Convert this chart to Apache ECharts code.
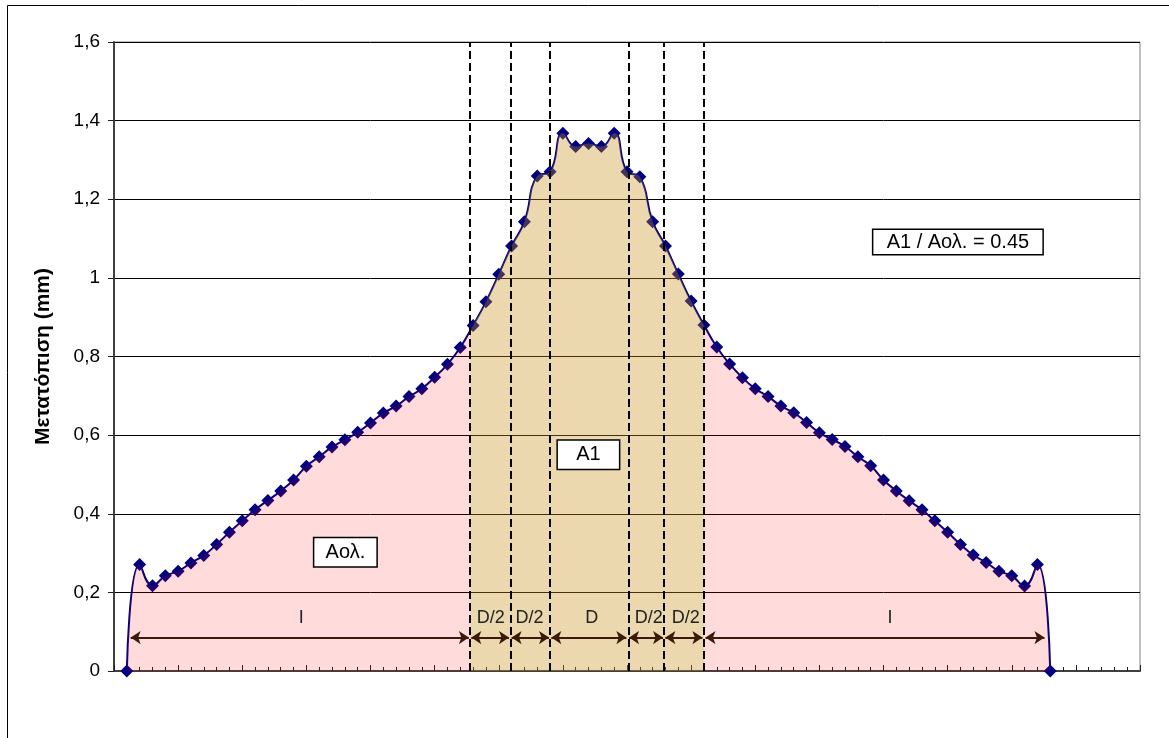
<!DOCTYPE html>
<html>
<head>
<meta charset="utf-8">
<script src="https://cdn.jsdelivr.net/npm/echarts@6/dist/echarts.min.js"></script>
<style>
  html, body { margin: 0; padding: 0; background: #fff; }
  #chart { width: 1169px; height: 738px; }
</style>
</head>
<body>
<div id="chart"></div>
<script>
// Μετατόπιση (mm) στις θέσεις 1..73
const displacement = [
  0, 0.271, 0.217, 0.242, 0.254, 0.275, 0.294, 0.322, 0.353, 0.382,
  0.410, 0.434, 0.458, 0.486, 0.521, 0.545, 0.570, 0.588, 0.607, 0.631,
  0.656, 0.674, 0.698, 0.718, 0.747, 0.780, 0.823, 0.879, 0.939, 1.009,
  1.081, 1.143, 1.259, 1.270, 1.368, 1.334, 1.342, 1.334, 1.368, 1.270,
  1.257, 1.143, 1.081, 1.010, 0.941, 0.880, 0.824, 0.781, 0.746, 0.718,
  0.698, 0.674, 0.657, 0.632, 0.606, 0.589, 0.571, 0.545, 0.522, 0.486,
  0.458, 0.433, 0.410, 0.382, 0.353, 0.322, 0.295, 0.276, 0.254, 0.242,
  0.216, 0.271, 0
];

// όρια ζωνών (διακεκομμένες)
const zoneLines = [27.75, 30.9, 34.0, 40.1, 42.9, 46.0];
const zoneA1 = [27.75, 46.0];

// βέλη διαστάσεων
const arrowY = 0.085;
const arrowSpans = [
  [1.3, 27.67], [27.86, 30.8], [31.0, 33.92], [34.1, 39.95],
  [40.16, 42.81], [42.99, 45.88], [46.12, 72.55]
];
const spanLabels = ['I', 'D/2', 'D/2', 'D', 'D/2', 'D/2', 'I'];
const spanLabelX = [14.6, 29.37, 32.4, 37.25, 41.7, 44.58, 60.5];
const spanLabelY = 0.135;

// πλαίσια κειμένου
const boxTexts = ['Αολ.', 'A1', 'A1 / Aολ. = 0.45'];
const boxPos = [[18.04, 0.302], [36.99, 0.55], [65.8, 1.091]];
const boxWidth = [62, 61, 169];

const pink = 'rgba(255, 0, 0, 0.14)';
const tan = 'rgba(198, 144, 24, 0.35)';

const points = displacement.map((v, i) => [i + 1, v]);

let myChart = echarts.init(document.getElementById('chart'));

myChart.setOption({
  animation: false,
  textStyle: { fontFamily: 'Liberation Sans, Arial, sans-serif' },
  graphic: [{
    type: 'rect',
    left: 5, top: 3,
    shape: { width: 1300, height: 1000 },
    style: { fill: 'none', stroke: '#000', lineWidth: 1 },
    silent: true
  }],
  grid: {
    left: 114, top: 42, right: 29, bottom: 67,
    show: true, borderColor: '#808080', borderWidth: 1
  },
  xAxis: {
    type: 'value',
    min: 0, max: 80, interval: 5,
    axisLabel: { show: false },
    axisLine: { lineStyle: { color: '#404040', width: 2 } },
    axisTick: { inside: true, length: 6, lineStyle: { color: '#202020' } },
    minorTick: { show: true, splitNumber: 5, length: 4, lineStyle: { color: '#202020' } },
    splitLine: { show: false }
  },
  yAxis: {
    type: 'value',
    min: 0, max: 1.6, interval: 0.2,
    name: 'Μετατόπιση (mm)',
    nameLocation: 'middle',
    nameGap: 60,
    nameTextStyle: { fontSize: 21, fontWeight: 'bold', color: '#000' },
    axisLabel: {
      fontSize: 19, color: '#000', margin: 14,
      formatter: v => String(+v.toFixed(1)).replace('.', ',')
    },
    axisLine: { show: true, lineStyle: { color: '#404040', width: 2 } },
    axisTick: { show: true, length: 6, lineStyle: { color: '#202020' } },
    splitLine: { lineStyle: { color: '#000', width: 1 } }
  },
  visualMap: {
    show: false,
    seriesIndex: 1,
    dimension: 0,
    pieces: [
      { lt: zoneA1[0], color: pink },
      { gte: zoneA1[0], lte: zoneA1[1], color: tan },
      { gt: zoneA1[1], color: pink }
    ]
  },
  series: [
    {
      name: 'Μετατόπιση',
      type: 'line',
      smooth: 0.5,
      z: 2,
      data: points,
      symbol: 'diamond',
      symbolSize: 13,
      itemStyle: { color: '#000080' },
      lineStyle: { color: '#000080', width: 2 }
    },
    {
      name: 'Περιοχές',
      type: 'line',
      smooth: 0.5,
      z: 3,
      silent: true,
      data: points,
      showSymbol: false,
      lineStyle: { width: 0, opacity: 0 },
      areaStyle: { opacity: 1 }
    },
    {
      name: 'zones',
      type: 'line',
      z: 5,
      data: [],
      markLine: {
        silent: true,
        symbol: ['none', 'none'],
        label: { show: false },
        lineStyle: { color: '#000', width: 2, type: [8, 4] },
        data: zoneLines.map(x => ({ xAxis: x }))
      }
    },
    {
      name: 'arrows',
      type: 'line',
      z: 6,
      data: [],
      markLine: {
        silent: true,
        symbol: ['arrow', 'arrow'],
        symbolSize: 10,
        label: { show: false },
        lineStyle: { color: '#3a1a0a', width: 2, type: 'solid' },
        data: arrowSpans.map(s => [{ coord: [s[0], arrowY] }, { coord: [s[1], arrowY] }])
      },
      markPoint: {
        silent: true,
        symbol: 'rect',
        symbolSize: 0,
        label: { show: true, position: 'inside', formatter: '{b}', fontSize: 18, color: '#222' },
        data: spanLabels.map((t, i) => ({ name: t, coord: [spanLabelX[i], spanLabelY] }))
      }
    },
    {
      name: 'boxes',
      type: 'line',
      z: 7,
      data: [],
      markPoint: {
        silent: true,
        symbol: 'rect',
        symbolSize: 0,
        data: boxTexts.map((t, i) => ({
          name: t,
          coord: boxPos[i],
          label: {
            show: true, position: 'inside', formatter: '{b}',
            fontSize: 20, color: '#000',
            backgroundColor: '#fff', borderColor: '#000', borderWidth: 1.5,
            width: boxWidth[i], height: i === 2 ? 24 : 28,
            lineHeight: i === 2 ? 24 : 28, align: 'center', verticalAlign: 'middle'
          }
        }))
      }
    }
  ]
});
</script>
</body>
</html>
